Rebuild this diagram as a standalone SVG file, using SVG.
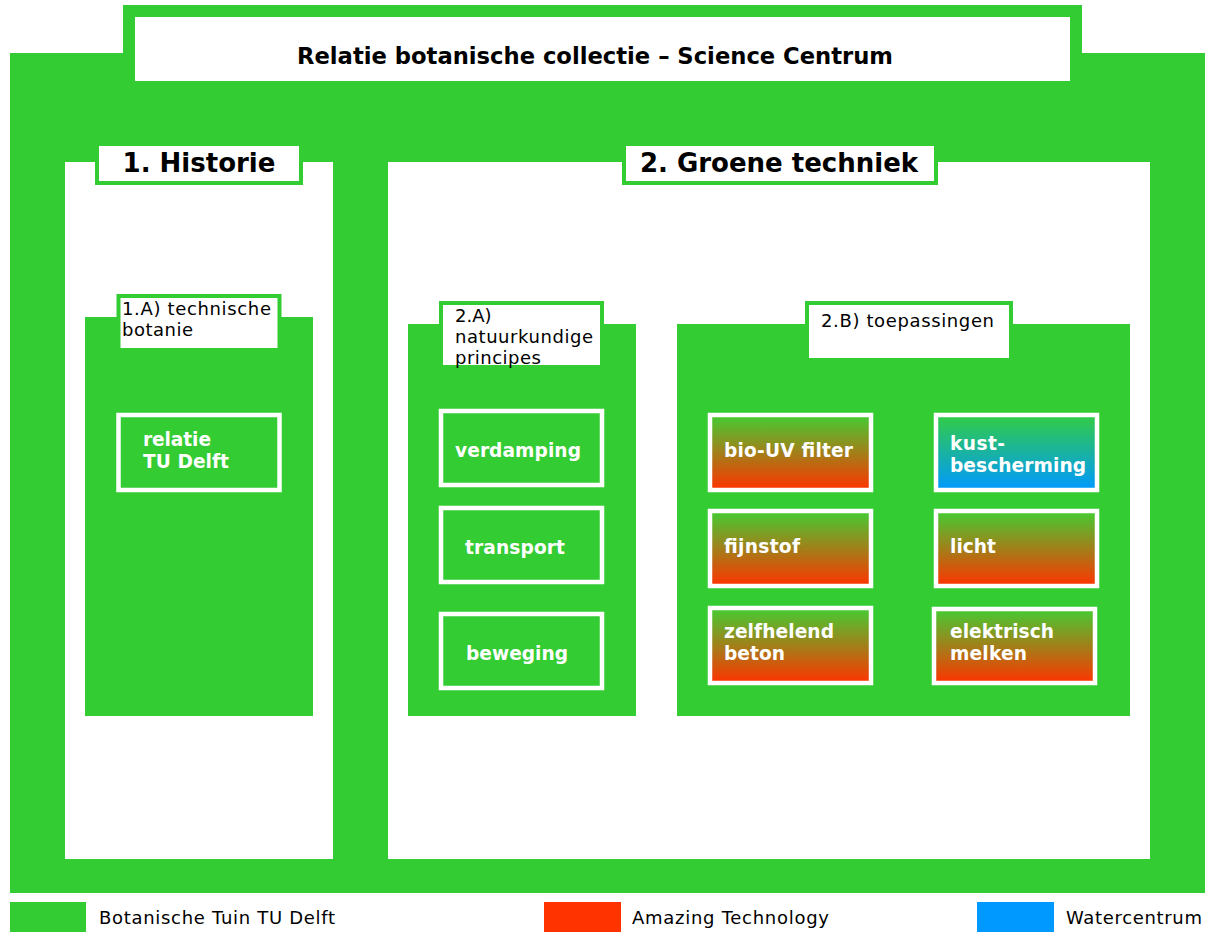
<svg xmlns="http://www.w3.org/2000/svg" width="1208" height="932" viewBox="0 0 1208 932">
  <defs>
    <linearGradient id="gAT" x1="0" y1="0" x2="0" y2="1">
      <stop offset="0" stop-color="#44cc33"/>
      <stop offset="1" stop-color="#ff3300"/>
    </linearGradient>
    <linearGradient id="gWC" x1="0" y1="0" x2="0" y2="1">
      <stop offset="0" stop-color="#33cc44"/>
      <stop offset="1" stop-color="#0099ff"/>
    </linearGradient>
    <style>
      .green { fill: #33cc33; }
      .white { fill: #ffffff; }
      .tab { fill: #ffffff; stroke: #33cc33; stroke-width: 4; }
      .node { stroke: #ffffff; stroke-width: 4.5; }
      .head { font-family: "DejaVu Sans", Verdana, sans-serif; font-weight: bold; fill: #000000; }
      .lab { font-family: "DejaVu Sans", Verdana, sans-serif; font-size: 18px; fill: #000000; }
      .nt { font-family: "DejaVu Sans", Verdana, sans-serif; font-weight: bold; font-size: 18.6px; fill: #ffffff; }
      .leg { font-family: "DejaVu Sans", Verdana, sans-serif; font-size: 18px; fill: #000000; }
    </style>
  </defs>

  <!-- main frame -->
  <g id="frame">
    <rect class="green" x="10" y="53" width="1195" height="840"/>
    <rect class="green" x="123" y="5" width="959" height="60"/>
    <rect class="white" x="135" y="17" width="935" height="64"/>
    <text class="head" x="297" y="64" font-size="22.5" textLength="596" lengthAdjust="spacingAndGlyphs">Relatie botanische collectie – Science Centrum</text>
  </g>

  <!-- column 1 -->
  <g id="historie">
    <rect class="white" x="65" y="162" width="268" height="697"/>
    <rect class="tab" x="97" y="144" width="204" height="39"/>
    <text class="head" x="199" y="172" font-size="26" text-anchor="middle">1. Historie</text>
  </g>

  <g id="technische-botanie">
    <rect class="green" x="85" y="317" width="228" height="399"/>
    <rect class="tab" x="118.5" y="296" width="161" height="54"/>
    <text class="lab" x="122" y="315" textLength="149">1.A) technische</text>
    <text class="lab" x="122" y="336" textLength="71">botanie</text>
  </g>

  <g id="relatie-tu-delft">
    <rect class="green node" x="118.5" y="415" width="161" height="75"/>
    <text class="nt" x="143" y="446" textLength="68">relatie</text>
    <text class="nt" x="143" y="468" textLength="86">TU Delft</text>
  </g>

  <!-- column 2 -->
  <g id="groene-techniek">
    <rect class="white" x="388" y="162" width="762" height="697"/>
    <rect class="tab" x="624" y="144" width="312" height="39"/>
    <text class="head" x="779" y="172" font-size="26" text-anchor="middle">2. Groene techniek</text>
  </g>

  <g id="natuurkundige-principes">
    <rect class="green" x="408" y="324" width="228" height="392"/>
    <rect class="tab" x="441" y="303" width="161" height="64"/>
    <text class="lab" x="455" y="322">2.A)</text>
    <text class="lab" x="455" y="343" textLength="138">natuurkundige</text>
    <text class="lab" x="455" y="364" textLength="86">principes</text>
  </g>

  <g id="verdamping">
    <rect class="green node" x="441" y="411" width="161" height="74"/>
    <text class="nt" x="455" y="457" textLength="126">verdamping</text>
  </g>
  <g id="transport">
    <rect class="green node" x="441" y="508" width="161" height="74"/>
    <text class="nt" x="465" y="554" textLength="100">transport</text>
  </g>
  <g id="beweging">
    <rect class="green node" x="441" y="614" width="161" height="74"/>
    <text class="nt" x="466" y="660" textLength="102">beweging</text>
  </g>

  <g id="toepassingen">
    <rect class="green" x="677" y="324" width="453" height="392"/>
    <rect class="tab" x="807" y="303" width="204" height="57"/>
    <text class="lab" x="821" y="327" textLength="173">2.B) toepassingen</text>
  </g>

  <g id="bio-uv-filter">
    <rect class="node" fill="url(#gAT)" x="710" y="415" width="161" height="75"/>
    <text class="nt" x="724" y="457" textLength="129">bio-UV filter</text>
  </g>
  <g id="kustbescherming">
    <rect class="node" fill="url(#gWC)" x="936" y="415" width="161" height="75"/>
    <text class="nt" x="950" y="450" textLength="55">kust-</text>
    <text class="nt" x="950" y="472" textLength="136">bescherming</text>
  </g>
  <g id="fijnstof">
    <rect class="node" fill="url(#gAT)" x="710" y="511" width="161" height="75"/>
    <text class="nt" x="724" y="553" textLength="76">fijnstof</text>
  </g>
  <g id="licht">
    <rect class="node" fill="url(#gAT)" x="936" y="511" width="161" height="75"/>
    <text class="nt" x="950" y="553" textLength="46">licht</text>
  </g>
  <g id="zelfhelend-beton">
    <rect class="node" fill="url(#gAT)" x="710" y="608" width="161" height="75"/>
    <text class="nt" x="724" y="638" textLength="110">zelfhelend</text>
    <text class="nt" x="724" y="660" textLength="61">beton</text>
  </g>
  <g id="elektrisch-melken">
    <rect class="node" fill="url(#gAT)" x="934" y="609" width="161" height="74"/>
    <text class="nt" x="950" y="638" textLength="104">elektrisch</text>
    <text class="nt" x="950" y="660" textLength="77">melken</text>
  </g>

  <!-- no connectors in this chart -->
  <g id="connectors"/>

  <!-- legend -->
  <g id="legend">
    <rect x="10" y="902" width="76" height="30" fill="#33cc33"/>
    <text class="leg" x="99" y="924" textLength="236">Botanische Tuin TU Delft</text>
    <rect x="544" y="902" width="77" height="30" fill="#ff3300"/>
    <text class="leg" x="632" y="924" textLength="197">Amazing Technology</text>
    <rect x="977" y="902" width="77" height="30" fill="#0099ff"/>
    <text class="leg" x="1066" y="924" textLength="136">Watercentrum</text>
  </g>
</svg>
